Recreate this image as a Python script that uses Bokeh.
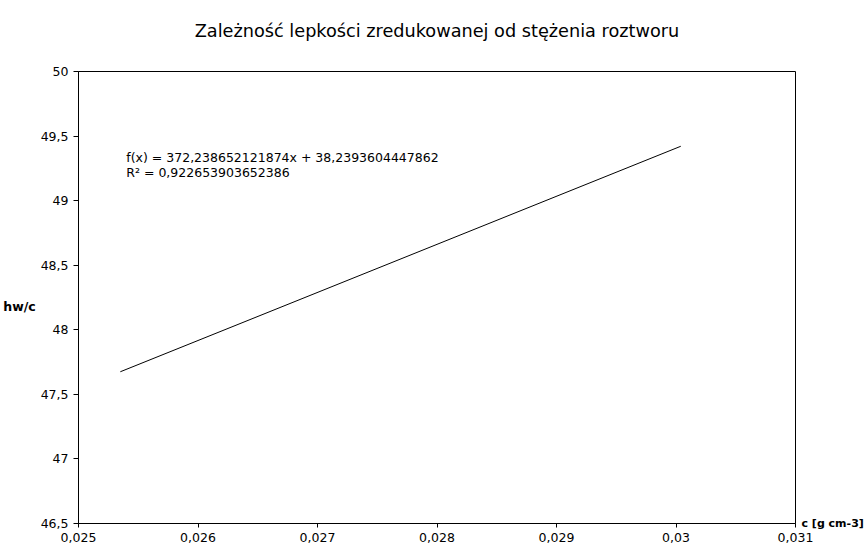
from bokeh.plotting import figure
from bokeh.models import (FixedTicker, CustomJSTickFormatter, Label, Range1d, LinearAxis)
from bokeh.embed import file_html
from bokeh.resources import INLINE

title_text = "Zależność lepkości zredukowanej od stężenia roztworu"
x_label = "c [g cm-3]"
y_label = "hw/c"
eq_text = "f(x) = 372,238652121874x + 38,2393604447862"
r2_text = "R² = 0,922653903652386"

# trend line endpoints
line_x = [0.02535, 0.03004]
line_y = [47.675, 49.421]

x_ticks = [0.025, 0.026, 0.027, 0.028, 0.029, 0.030, 0.031]
y_ticks = [46.5, 47.0, 47.5, 48.0, 48.5, 49.0, 49.5, 50.0]

FONT = "DejaVu Sans"
SMALL = "12.5px"

p = figure(width=866, height=548, output_backend="svg", toolbar_location=None,
           x_range=Range1d(0.025, 0.031), y_range=Range1d(46.5, 50.0),
           min_border_left=75, min_border_right=69, min_border_top=71, min_border_bottom=25)
p.background_fill_color = "white"
p.border_fill_color = "white"
p.outline_line_color = "black"
p.outline_line_width = 1
p.xgrid.visible = False
p.ygrid.visible = False

fmt = CustomJSTickFormatter(code="return String(Number(tick.toFixed(6))).replace('.', ',');")
for ax, ticks, tout in ((p.xaxis[0], x_ticks, 4), (p.yaxis[0], y_ticks, 5)):
    ax.ticker = FixedTicker(ticks=ticks)
    ax.formatter = fmt
    ax.major_tick_in = 0
    ax.major_tick_out = tout
    ax.minor_tick_line_color = None
    ax.axis_line_color = "black"
    ax.major_tick_line_color = "black"
    ax.major_label_text_font = FONT
    ax.major_label_text_font_size = SMALL
    ax.major_label_text_color = "black"
    ax.major_label_standoff = 5

yax = p.yaxis[0]
yax.axis_label = "\n" + y_label
yax.axis_label_orientation = "horizontal"
yax.axis_label_standoff = 2
yax.axis_label_text_font = FONT
yax.axis_label_text_font_size = SMALL
yax.axis_label_text_font_style = "bold"
yax.axis_label_text_color = "black"

# chart title as the label of a bare axis above the frame
tax = LinearAxis(ticker=FixedTicker(ticks=[]), axis_label=title_text,
                 axis_line_color=None, major_tick_line_color=None,
                 minor_tick_line_color=None, major_tick_in=0, major_tick_out=0,
                 axis_label_standoff=31, axis_label_text_font=FONT,
                 axis_label_text_font_size="17.7px", axis_label_text_font_style="normal",
                 axis_label_text_color="black")
p.add_layout(tax, "above")

# x-axis title written at the right end of the x axis
rax = LinearAxis(ticker=FixedTicker(ticks=[y_ticks[0]]),
                 formatter=CustomJSTickFormatter(code="return %r;" % x_label),
                 axis_line_color=None, major_tick_line_color=None,
                 minor_tick_line_color=None, major_tick_in=0, major_tick_out=0,
                 major_label_standoff=6, major_label_text_font=FONT,
                 major_label_text_font_size="11px", major_label_text_font_style="bold",
                 major_label_text_color="black")
p.add_layout(rax, "right")

trend = p.line(line_x, line_y, line_color="black", line_width=1)

p.add_layout(Label(x=0.0254, y=49.334, text=eq_text, text_align="left",
                   text_baseline="middle", text_font=FONT, text_font_size=SMALL,
                   text_color="black"))
p.add_layout(Label(x=0.0254, y=49.218, text=r2_text, text_align="left",
                   text_baseline="middle", text_font=FONT, text_font_size=SMALL,
                   text_color="black"))

open("out.html", "w").write(file_html(p, INLINE))
